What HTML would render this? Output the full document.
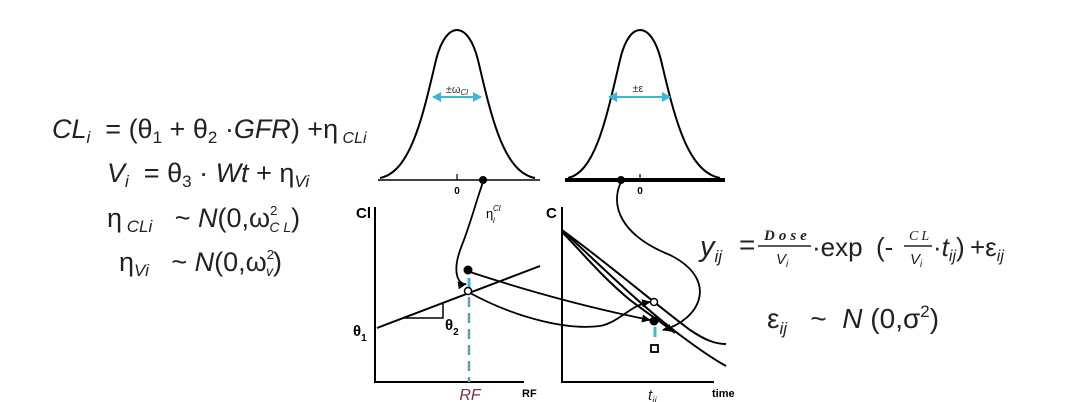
<!DOCTYPE html>
<html><head><meta charset="utf-8"><style>
html,body{margin:0;padding:0;background:#fff;}
svg{display:block;font-family:"Liberation Sans",sans-serif;}
text{white-space:pre;}
</style></head><body>
<svg width="1071" height="402" viewBox="0 0 1071 402" xml:space="preserve">
<defs>
<marker id="ah" markerUnits="userSpaceOnUse" markerWidth="10" markerHeight="10" refX="8" refY="4" orient="auto"><path d="M0,0 L9,4 L0,8 Z" fill="#000"/></marker>
<marker id="ca" markerUnits="userSpaceOnUse" markerWidth="10" markerHeight="10" refX="8" refY="5" orient="auto"><path d="M0,0 L9,5 L0,10 Z" fill="#3ab8d8"/></marker>
<marker id="cb" markerUnits="userSpaceOnUse" markerWidth="10" markerHeight="10" refX="1" refY="5" orient="auto"><path d="M9,0 L0,5 L9,10 Z" fill="#3ab8d8"/></marker>
</defs>

<!-- left equations -->
<g fill="#222" font-size="27">
<text x="52" y="138"><tspan font-style="italic">CL</tspan><tspan font-style="italic" font-size="17" dy="5">i</tspan><tspan dy="-5">  = (θ</tspan><tspan font-size="17" dy="5">1</tspan><tspan dy="-5"> + θ</tspan><tspan font-size="17" dy="5">2</tspan><tspan dy="-5"> ·</tspan><tspan font-style="italic">GFR</tspan><tspan>) +η</tspan><tspan font-style="italic" font-size="16" dy="5"> CLi</tspan></text>
<text x="107" y="182"><tspan font-style="italic">V</tspan><tspan font-style="italic" font-size="17" dy="5">i</tspan><tspan dy="-5">  = θ</tspan><tspan font-size="17" dy="5">3</tspan><tspan dy="-5"> · </tspan><tspan font-style="italic">Wt</tspan><tspan> + η</tspan><tspan font-style="italic" font-size="17" dy="5">Vi</tspan></text>
<text x="107" y="227"><tspan>η</tspan><tspan font-style="italic" font-size="17" dy="5"> CLi</tspan><tspan dy="-5">   ~ </tspan><tspan font-style="italic">N</tspan><tspan>(0,ω</tspan><tspan font-size="13" dy="-12">2</tspan><tspan font-style="italic" font-size="14" dx="-8" dy="17">C L</tspan><tspan dy="-5">)</tspan></text>
<text x="119" y="271"><tspan>η</tspan><tspan font-style="italic" font-size="17" dy="5">Vi</tspan><tspan dy="-5">   ~ </tspan><tspan font-style="italic">N</tspan><tspan>(0,ω</tspan><tspan font-size="13" dy="-12">2</tspan><tspan font-style="italic" font-size="14" dx="-8" dy="17">v</tspan><tspan dy="-5">)</tspan></text>
</g>

<!-- left bell curve -->
<g fill="none" stroke="#000">
<path d="M380,178 C410,172 422,120 436,60 C446,20 468,20 478,60 C492,120 504,172 535,178" stroke-width="2"/>
<line x1="378" y1="180" x2="540" y2="180" stroke-width="1.5"/>
<line x1="457" y1="174" x2="457" y2="180" stroke-width="1.2"/>
<line x1="433" y1="97" x2="481" y2="97" stroke="#3ab8d8" stroke-width="2" marker-end="url(#ca)" marker-start="url(#cb)"/>
</g>
<text x="457" y="93" font-size="11" text-anchor="middle" fill="#333">±ω<tspan font-style="italic" font-size="8" dy="2">Cl</tspan></text>
<text x="457" y="194" font-size="10" text-anchor="middle" font-weight="bold">0</text>
<circle cx="483" cy="180" r="4" fill="#000"/>

<!-- right bell curve -->
<g fill="none" stroke="#000">
<path d="M568,178 C595,172 606,120 620,60 C629,20 651,20 661,60 C675,120 688,172 720,178" stroke-width="2"/>
<line x1="565" y1="180" x2="725" y2="180" stroke-width="4"/>
<line x1="640" y1="174" x2="640" y2="180" stroke-width="1.2"/>
<line x1="609" y1="97" x2="670" y2="97" stroke="#3ab8d8" stroke-width="2" marker-end="url(#ca)" marker-start="url(#cb)"/>
</g>
<text x="638" y="92" font-size="11" text-anchor="middle" fill="#333">±ε</text>
<text x="640" y="194" font-size="10" text-anchor="middle" font-weight="bold">0</text>
<circle cx="621" cy="180" r="4" fill="#000"/>

<!-- left plot -->
<g fill="none" stroke="#000" stroke-width="2">
<polyline points="375,207 375,382 524,382"/>
<line x1="377" y1="328" x2="540" y2="266"/>
<polyline points="404,318 443,318 443,304" stroke-width="1.5"/>
<line x1="469" y1="297" x2="469" y2="382" stroke="#5aa0b8" stroke-width="2.5" stroke-dasharray="10,6"/>
<line x1="469" y1="278" x2="469" y2="289" stroke="#3ab8d8" stroke-width="3"/>
</g>
<text x="356" y="218" font-size="15" font-weight="bold">Cl</text>
<text x="353" y="336" font-size="15" font-weight="bold">θ<tspan font-size="10" dy="5">1</tspan></text>
<text x="445" y="330" font-size="15" font-weight="bold">θ<tspan font-size="10" dy="5">2</tspan></text>
<text x="486" y="218" font-size="13">η</text>
<text x="493" y="223" font-size="8" font-style="italic">i</text>
<text x="493" y="211" font-size="8" font-style="italic">Cl</text>
<text x="522" y="397" font-size="11" font-weight="bold">RF</text>
<text x="470" y="400" font-size="16" font-style="italic" fill="#7a3040" text-anchor="middle">RF</text>
<circle cx="468" cy="270" r="4.5" fill="#000"/>
<circle cx="468" cy="291" r="3.5" fill="#fff" stroke="#000" stroke-width="1.5"/>

<!-- right plot -->
<g fill="none" stroke="#000" stroke-width="2">
<polyline points="562,207 562,382 714,382"/>
<path d="M562,230 C610,265 650,300 690,330 C705,340 715,344 726,344"/>
<path d="M562,230 C600,265 640,305 680,335 C700,350 715,360 726,366"/>
<path d="M562,232 C580,250 600,275 630,300 C650,315 665,325 675,333"/>
<line x1="655" y1="327" x2="655" y2="337" stroke="#3ab8d8" stroke-width="3"/>
<rect x="651" y="345" width="7" height="7" stroke-width="1.8"/>
</g>
<text x="546" y="218" font-size="15" font-weight="bold">C</text>
<text x="712" y="397" font-size="11" font-weight="bold">time</text>
<text x="648" y="400" font-size="15" font-style="italic" fill="#222">t<tspan font-size="10" dy="4">ij</tspan></text>
<circle cx="654" cy="302" r="3.5" fill="#fff" stroke="#000" stroke-width="1.5"/>
<circle cx="654" cy="321" r="4.5" fill="#000"/>

<!-- connecting arrows -->
<g fill="none" stroke="#000" stroke-width="1.8">
<path d="M483,182 C475,205 470,225 462,245 C450,275 460,285 466,284" marker-end="url(#ah)"/>
<path d="M621,182 C610,205 620,235 670,255 C720,280 700,320 663,330" marker-end="url(#ah)"/>
<path d="M470,272 C540,295 600,310 650,320" marker-end="url(#ah)"/>
<path d="M470,293 C520,320 570,330 600,326 C620,322 630,305 650,302" marker-end="url(#ah)"/>
</g>

<!-- right equations -->
<g fill="#222">
<text x="700" y="256" font-size="29" font-style="italic">y<tspan font-size="17" dy="6">ij</tspan></text>
<text x="739" y="254" font-size="28">=</text>
<text x="764" y="240" font-size="15" font-style="italic" font-family="Liberation Serif,serif" letter-spacing="4" font-weight="bold">Dose</text>
<line x1="758" y1="246" x2="811" y2="246" stroke="#222" stroke-width="1.5"/>
<text x="776" y="264" font-size="15" font-style="italic">V<tspan font-size="10" dy="3">i</tspan></text>
<text x="812" y="256" font-size="26">·exp</text>
<text x="876" y="256" font-size="26">(-</text>
<text x="909" y="240" font-size="14" font-style="italic" font-family="Liberation Serif,serif" letter-spacing="3">CL</text>
<line x1="904" y1="246" x2="932" y2="246" stroke="#222" stroke-width="1.5"/>
<text x="910" y="264" font-size="15" font-style="italic">V<tspan font-size="10" dy="3">i</tspan></text>
<text x="933" y="256" font-size="26">·<tspan font-style="italic">t</tspan><tspan font-style="italic" font-size="16" dy="5">ij</tspan><tspan dy="-5">)</tspan></text>
<text x="970" y="256" font-size="26">+ε<tspan font-style="italic" font-size="16" dy="5">ij</tspan></text>
<text x="767" y="328" font-size="28">ε<tspan font-style="italic" font-size="17" dy="6">ij</tspan><tspan dy="-6">   ~  </tspan><tspan font-style="italic">N</tspan><tspan> (0,σ</tspan><tspan font-size="17" dy="-11">2</tspan><tspan dy="11">)</tspan></text>
</g>
</svg>
</body></html>
